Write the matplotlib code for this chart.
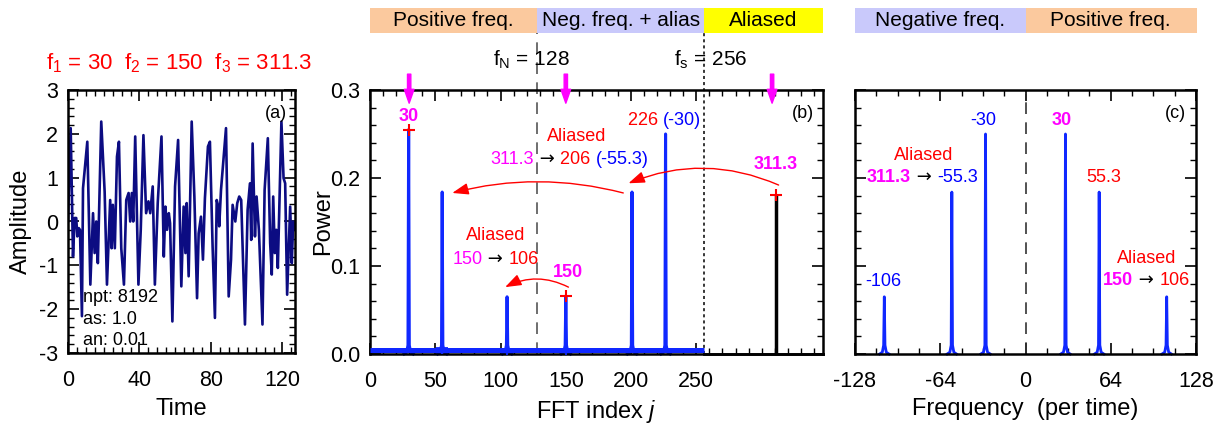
import matplotlib
matplotlib.use("Agg")
import matplotlib.pyplot as plt
import numpy as np
from matplotlib.ticker import MultipleLocator

plt.rcParams['font.family'] = ['Liberation Sans', 'DejaVu Sans']
plt.rcParams['mathtext.fontset'] = 'custom'
plt.rcParams['mathtext.rm'] = 'Liberation Sans'
plt.rcParams['mathtext.it'] = 'Liberation Sans:italic'
plt.rcParams['mathtext.default'] = 'regular'
plt.rcParams['axes.unicode_minus'] = False

# ---- data ----
# panel (a): time series vertices
t_a = [0, 1.5, 2.8, 3.7, 4.6, 5.2, 6.0, 6.7, 7.8, 8.4, 10.8, 12.5, 14.0, 14.9, 15.8, 16.7,
       18.6, 20.5, 21.8, 23.6, 24.4, 25.1, 26.2, 27.4, 28.5, 29.8, 31.3, 32.6, 33.9, 34.8,
       35.7, 36.5, 37.6, 39.4, 40.7, 42.2, 43.7, 45.0, 46.0, 47.4, 48.6, 50.2, 52.3, 53.6,
       54.5, 55.4, 56.4, 57.1, 58.4, 59.9, 61.6, 63.4, 64.7, 65.7, 66.4, 67.5, 69.2, 70.7,
       72.2, 73.1, 74.4, 75.5, 76.6, 78.3, 79.4, 80.9, 82.2, 83.2, 84.1, 84.6, 85.6, 88.4,
       89.9, 91.2, 92.1, 93.6, 94.7, 95.8, 96.9, 99.0, 100.5, 101.8, 102.5, 103.3, 104.6,
       105.5, 106.8, 108.8, 110.0, 111.8, 113.1, 114.0, 114.8, 115.7, 116.5, 117.4, 119.4,
       120.6, 121.5, 122.6, 124.3, 125.2, 126.0, 126.5]
amp_a = [0, 2.13, -0.80, 0.08, 0.08, -0.34, -0.15, -0.19, -2.16, 0.76, 1.82, -1.44, 0.19, -0.72,
         0.0, -0.95, 2.28, 0.68, -1.44, 0.49, -0.61, 0.38, -0.61, 1.48, 1.82, -0.61, -1.44,
         0.49, 0.65, 0.0, 0.65, 0.0, 1.94, -1.44, -0.19, 1.97, 0.19, 0.46, 0.19, 0.80, -1.44,
         0.42, 1.94, -0.80, 0.34, -0.19, 0.19, -0.04, -2.28, 0.80, 1.86, -1.48, 0.34, -0.72,
         0.42, -1.25, 2.28, 0.57, -1.75, -0.27, 0.11, -0.87, 0.53, 1.71, 1.82, -0.57, -2.20,
         0.49, 0.34, -0.11, 0.72, 2.13, -1.71, -0.87, 0.38, 0.0, 0.42, 0.57, 0.49, -2.35,
         0.27, 0.87, -0.42, 1.78, -0.34, 0.57, -0.19, -2.35, 0.72, 1.90, -0.49, -1.21, 0.57,
         -0.72, -0.19, -1.06, 2.28, 0.99, 0.87, -1.67, 0.34, -0.95, 0.0, -0.19]

# panel (b): FFT index peaks
peak_j = [29.6, 55.3, 105.0, 150.0, 200.7, 226.4]
peak_pow = [0.255, 0.184, 0.065, 0.066, 0.184, 0.25]
alias_j = 311.3
alias_pow = 0.178
f_nyq = 128
f_samp = 256

# panel (c): frequency peaks
peak_f = [-106.0, -55.3, -30.0, 30.0, 55.3, 106.0]
peak_fpow = [0.065, 0.184, 0.25, 0.25, 0.184, 0.065]

input_freqs = [30, 150, 311.3]

ORANGE = '#fbc99e'
LAVENDER = '#c9c9fb'
YELLOW = '#ffff00'
MAG = '#ff00ff'
BLUE = '#0000ff'
LINEBLUE = '#1028ff'
RED = '#ff0000'

TICK_FS = 15.5
LAB_FS = 17
ANN_FS = 13
ARROW = '\u2192'


def style_axes(ax):
    for s in ax.spines.values():
        s.set_linewidth(1.8)
    ax.tick_params(which='both', direction='in', top=True, right=True, labelsize=TICK_FS)
    ax.tick_params(which='major', length=8, width=1.2, pad=7)
    ax.tick_params(which='minor', length=4.5, width=1.0)
    ax.tick_params(axis='x', which='major', pad=12)


def rainbow(ax, x, y, pieces, fs=ANN_FS):
    """Place a row of differently coloured text pieces, left to right."""
    prev = None
    for s, c, w in pieces:
        fam = ['DejaVu Sans'] if ARROW in s else None
        if prev is None:
            prev = ax.text(x, y, s, color=c, fontweight=w, fontsize=fs, family=fam,
                           ha='left', va='center', clip_on=False)
        else:
            prev = ax.annotate(s, xy=(1, 0), xycoords=prev, color=c, fontweight=w,
                               fontsize=fs, family=fam, ha='left', va='bottom',
                               annotation_clip=False)


def spike(ax, pos, h, color, lw):
    x = [pos - 3.5, pos - 1.5, pos - 0.5, pos, pos + 0.5, pos + 1.5, pos + 3.5]
    y = [0, 0.002, 0.01, h, 0.01, 0.002, 0]
    ax.plot(x, y, color=color, lw=lw, clip_on=False)


fig = plt.figure(figsize=(12.24, 4.23), dpi=100)
ax_a = fig.add_axes([68 / 1224, 70 / 423, 227 / 1224, 263 / 423])
ax_b = fig.add_axes([370 / 1224, 69 / 423, 453 / 1224, 264 / 423])
ax_c = fig.add_axes([855 / 1224, 69 / 423, 341 / 1224, 264 / 423])

# ---------------- (a) ----------------
ax_a.plot(t_a, amp_a, color='#0c0c82', lw=1.9)
ax_a.set_xlim(0, 127)
ax_a.set_ylim(-3, 3)
ax_a.xaxis.set_major_locator(MultipleLocator(40))
ax_a.xaxis.set_minor_locator(MultipleLocator(5))
ax_a.yaxis.set_major_locator(MultipleLocator(1))
ax_a.yaxis.set_minor_locator(MultipleLocator(0.2))
style_axes(ax_a)
ax_a.set_xlabel('Time', fontsize=LAB_FS)
ax_a.set_ylabel('Amplitude', fontsize=LAB_FS)
ax_a.xaxis.set_label_coords(0.5, -0.17)
ax_a.yaxis.set_label_coords(-0.158, 0.5)
ax_a.text(0.915, 0.91, '(a)', transform=ax_a.transAxes, ha='center', va='center', fontsize=ANN_FS)
for i, s in enumerate(['npt: 8192', 'as: 1.0', 'an: 0.01']):
    ax_a.text(0.065, 0.212 - i * 0.083, s, transform=ax_a.transAxes, ha='left', va='center',
              fontsize=ANN_FS)
ax_a.text(0.49, 1.103, r'f$_1$ = %g  f$_2$ = %g  f$_3$ = %g' % tuple(input_freqs),
          transform=ax_a.transAxes, ha='center', va='center', color=RED, fontsize=16)

# ---------------- (b) ----------------
ax_b.plot([0, f_samp], [0.004, 0.004], color=LINEBLUE, lw=3.6, solid_capstyle='butt',
          zorder=3, clip_on=False)
for p, h in zip(peak_j, peak_pow):
    spike(ax_b, p, h, LINEBLUE, 2.2)
ax_b.plot([f_samp, 347], [0, 0], color='black', lw=2, clip_on=False)
ax_b.plot([alias_j, alias_j], [0, alias_pow], color='black', lw=2.5)
ax_b.plot([peak_j[0], input_freqs[1], alias_j], [peak_pow[0], peak_pow[3], alias_pow + 0.003],
          ls='none', marker='+', ms=9, mew=1.5, color=RED, zorder=5)
ax_b.plot([peak_j[1], peak_j[2], peak_j[3]], [0.007, 0.005, 0.005], ls='none', marker='+',
          ms=8, mew=1.3, color=LINEBLUE, zorder=4)
ax_b.set_xlim(0, 347)
ax_b.set_ylim(0, 0.3)
ax_b.set_xticks([0, 50, 100, 150, 200, 250])
ax_b.xaxis.set_minor_locator(MultipleLocator(10))
ax_b.yaxis.set_major_locator(MultipleLocator(0.1))
ax_b.yaxis.set_minor_locator(MultipleLocator(0.02))
ax_b.yaxis.set_major_formatter(plt.FormatStrFormatter('%.1f'))
style_axes(ax_b)
ax_b.set_xlabel(r'FFT index $\mathit{j}$', fontsize=LAB_FS)
ax_b.set_ylabel('Power', fontsize=LAB_FS)
ax_b.xaxis.set_label_coords(0.5, -0.165)
ax_b.yaxis.set_label_coords(-0.08, 0.5)

band_lo, band_hi = 1.216, 1.31
ax_b.axvspan(0, f_nyq, ymin=band_lo, ymax=band_hi, color=ORANGE, lw=0, clip_on=False)
ax_b.axvspan(f_nyq, f_samp, ymin=band_lo, ymax=band_hi, color=LAVENDER, lw=0, clip_on=False)
ax_b.axvspan(f_samp, 347, ymin=band_lo, ymax=band_hi, color=YELLOW, lw=0, clip_on=False)
xt = ax_b.get_xaxis_transform()
band_y = (band_lo + band_hi) / 2
ax_b.text(f_nyq / 2, band_y, 'Positive freq.', transform=xt, ha='center', va='center', fontsize=15)
ax_b.text((f_nyq + f_samp) / 2, band_y, 'Neg. freq. + alias', transform=xt, ha='center',
          va='center', fontsize=15)
ax_b.text((f_samp + 347) / 2, band_y, 'Aliased', transform=xt, ha='center', va='center', fontsize=15)
ax_b.axvline(f_nyq, ymin=0, ymax=band_lo, color='#555555', lw=1.2, ls=(0, (7, 5)), clip_on=False)
ax_b.axvline(f_samp, ymin=0, ymax=band_lo, color='black', lw=1.1, ls=(0, (2, 2)), clip_on=False)
ax_b.text(f_nyq - 4, 1.114, r'f$_N$ = %d' % f_nyq, transform=xt, ha='center', va='center',
          fontsize=15)
ax_b.text(f_samp + 5, 1.114, r'f$_s$ = %d' % f_samp, transform=xt, ha='center', va='center',
          fontsize=15)
for fx in [input_freqs[0], input_freqs[1], 308]:
    ax_b.annotate('', xy=(fx, 0.285), xycoords='data', xytext=(fx, 1.06), textcoords=xt,
                  arrowprops=dict(color=MAG, width=2.4, headwidth=7, headlength=10, shrink=0),
                  annotation_clip=False)
ax_b.text(0.955, 0.91, '(b)', transform=ax_b.transAxes, ha='center', va='center', fontsize=ANN_FS)
ax_b.text(peak_j[0], 0.27, '30', color=MAG, fontweight='bold', ha='center', va='center',
          fontsize=ANN_FS)
rainbow(ax_b, 197.5, 0.265, [('226 ', RED, 'normal'), ('(-30)', BLUE, 'normal')])
ax_b.text(158.5, 0.247, 'Aliased', color=RED, ha='center', va='center', fontsize=ANN_FS)
rainbow(ax_b, 92, 0.221, [('311.3', MAG, 'normal'), (' ' + ARROW + ' ', 'black', 'normal'),
                          ('206 ', RED, 'normal'), ('(-55.3)', BLUE, 'normal')])
ax_b.text(311, 0.215, '311.3', color=MAG, fontweight='bold', ha='center', va='center',
          fontsize=ANN_FS)
ax_b.text(96, 0.135, 'Aliased', color=RED, ha='center', va='center', fontsize=ANN_FS)
rainbow(ax_b, 63, 0.107, [('150', MAG, 'normal'), (' ' + ARROW + ' ', 'black', 'normal'),
                          ('106', RED, 'normal')])
ax_b.text(151.5, 0.093, '150', color=MAG, fontweight='bold', ha='center', va='center',
          fontsize=ANN_FS)
arrow_kw = dict(arrowstyle='-|>,head_length=0.7,head_width=0.25', color=RED, lw=1.0,
                shrinkA=0, shrinkB=0)
ax_b.annotate('', xy=(198, 0.194), xytext=(313, 0.192),
              arrowprops=dict(connectionstyle='arc3,rad=0.21', mutation_scale=14, **arrow_kw))
ax_b.annotate('', xy=(63, 0.183), xytext=(194, 0.183),
              arrowprops=dict(connectionstyle='arc3,rad=0.13', mutation_scale=14, **arrow_kw))
ax_b.annotate('', xy=(103.5, 0.076), xytext=(152, 0.076),
              arrowprops=dict(connectionstyle='arc3,rad=0.25', mutation_scale=14, **arrow_kw))

# ---------------- (c) ----------------
for p, h in zip(peak_f, peak_fpow):
    spike(ax_c, p, h, LINEBLUE, 2.0)
ax_c.axvline(0, color='#333333', lw=1.2, ls=(0, (7, 5)))
ax_c.set_xlim(-128, 128)
ax_c.set_ylim(0, 0.3)
ax_c.set_xticks([-128, -64, 0, 64, 128])
ax_c.xaxis.set_minor_locator(MultipleLocator(16))
ax_c.yaxis.set_major_locator(MultipleLocator(0.1))
ax_c.yaxis.set_minor_locator(MultipleLocator(0.02))
style_axes(ax_c)
ax_c.set_yticklabels([])
ax_c.set_xlabel('Frequency  (per time)', fontsize=LAB_FS)
ax_c.xaxis.set_label_coords(0.5, -0.165)
ax_c.axvspan(-128, 0, ymin=band_lo, ymax=band_hi, color=LAVENDER, lw=0, clip_on=False)
ax_c.axvspan(0, 129, ymin=band_lo, ymax=band_hi, color=ORANGE, lw=0, clip_on=False)
xtc = ax_c.get_xaxis_transform()
ax_c.text(-64, band_y, 'Negative freq.', transform=xtc, ha='center', va='center', fontsize=15)
ax_c.text(64, band_y, 'Positive freq.', transform=xtc, ha='center', va='center', fontsize=15)
ax_c.text(0.94, 0.91, '(c)', transform=ax_c.transAxes, ha='center', va='center', fontsize=ANN_FS)
ax_c.text(-32, 0.265, '-30', color=BLUE, ha='center', va='center', fontsize=ANN_FS)
ax_c.text(27.5, 0.265, '30', color=MAG, fontweight='bold', ha='center', va='center',
          fontsize=ANN_FS)
ax_c.text(-76.5, 0.226, 'Aliased', color=RED, ha='center', va='center', fontsize=ANN_FS)
rainbow(ax_c, -119, 0.201, [('311.3', MAG, 'bold'), (' ' + ARROW + ' ', 'black', 'normal'),
                            ('-55.3', BLUE, 'normal')])
ax_c.text(58.5, 0.201, '55.3', color=RED, ha='center', va='center', fontsize=ANN_FS)
ax_c.text(-106.5, 0.082, '-106', color=BLUE, ha='center', va='center', fontsize=ANN_FS)
ax_c.text(91, 0.109, 'Aliased', color=RED, ha='center', va='center', fontsize=ANN_FS)
rainbow(ax_c, 58, 0.083, [('150', MAG, 'bold'), (' ' + ARROW + ' ', 'black', 'normal'),
                          ('106', RED, 'normal')])

fig.savefig('out.png', dpi=100)
